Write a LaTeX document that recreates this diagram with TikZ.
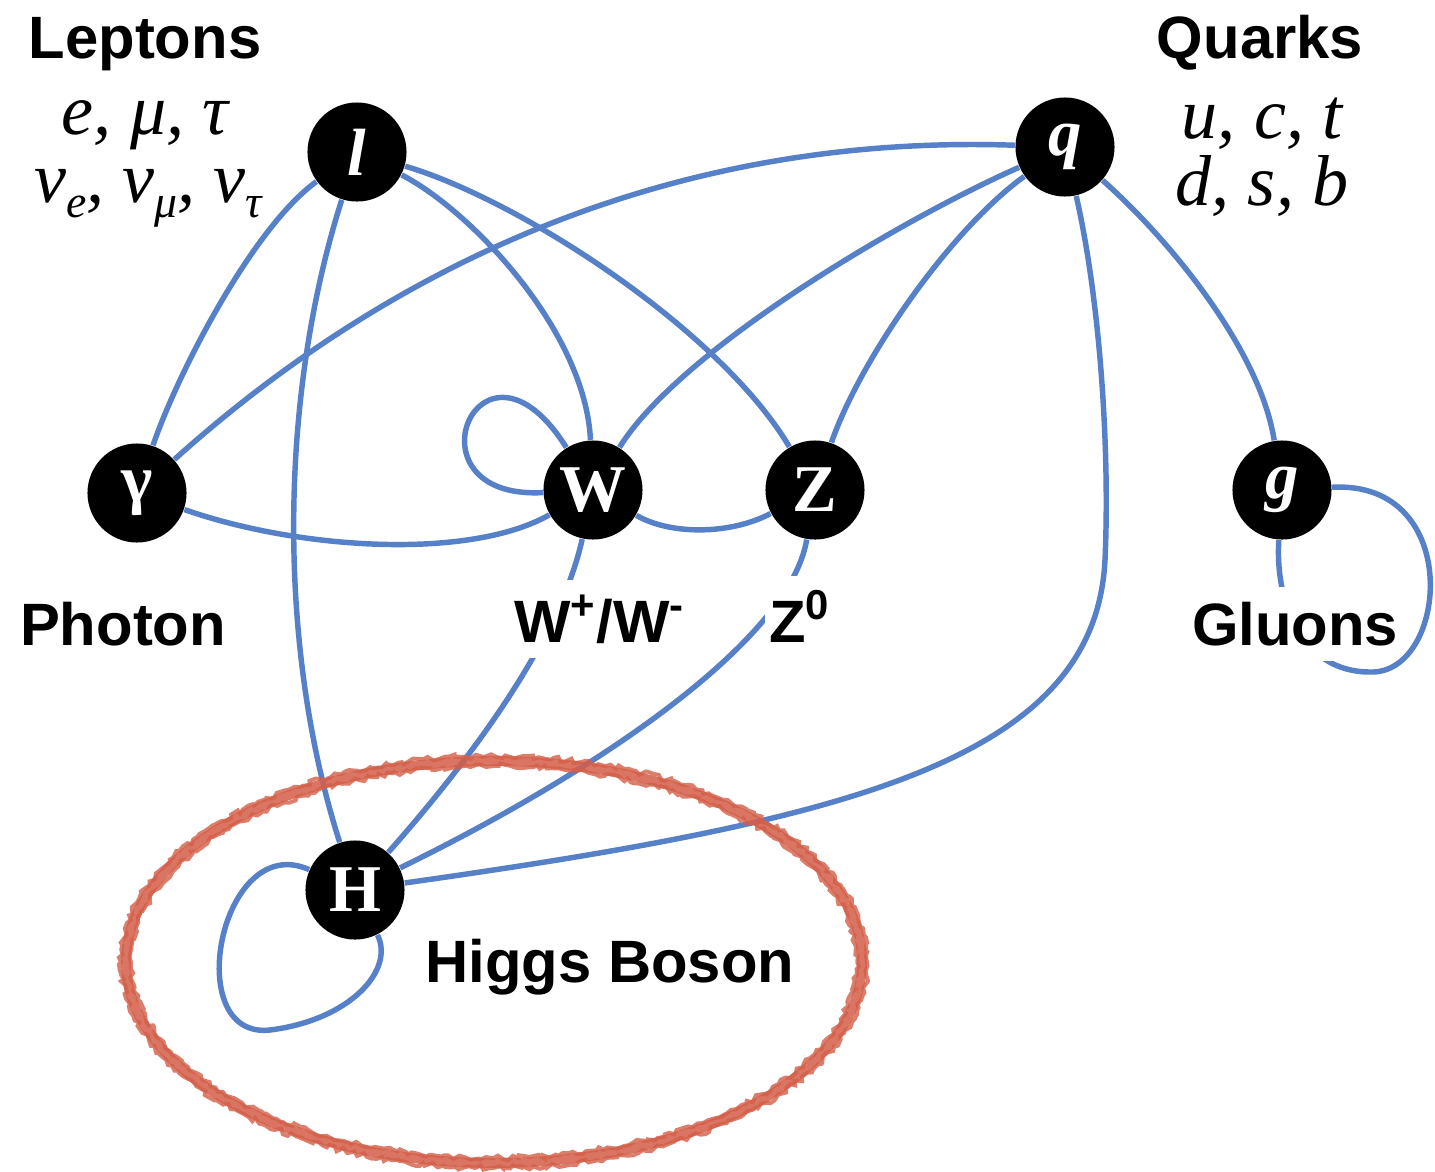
\documentclass[tikz,border=0pt]{standalone}
\usepackage{fontspec}
\setmainfont{Liberation Sans}
\newfontfamily\serifnode{Liberation Serif}
\usetikzlibrary{decorations.pathmorphing,backgrounds}
\definecolor{edgeblue}{RGB}{86,128,199}
\definecolor{ringred}{RGB}{212,94,72}
\newcommand{\lowsub}[1]{\raisebox{-0.22em}{\fontsize{13}{13}\selectfont #1}}
\begin{document}
\begin{tikzpicture}[x=0.01cm,y=-0.01cm,
  particle/.style={circle, fill=black, text=white, minimum size=0.99cm, inner sep=0pt,
    font=\serifnode\bfseries\fontsize{19}{19}\selectfont},
  link/.style={draw=edgeblue, line width=1.55pt},
  title/.style={font=\bfseries\fontsize{17}{20}\selectfont, inner sep=0pt, anchor=base},
  tag/.style={font=\bfseries\fontsize{17}{20}\selectfont, fill=white, inner xsep=0.04cm, inner ysep=0.15cm, anchor=base},
  members/.style={font=\serifnode\itshape\fontsize{20.5}{24}\selectfont, inner sep=0pt, anchor=base}
]
\useasboundingbox (0,0) rectangle (1435,1172);

% particles
\node[particle] (l) at (357,152) {\itshape l};
\node[particle] (q) at (1065,147) {\itshape q};
\node[particle] (ga) at (137,493) {γ};
\node[particle] (W) at (593,490) {W};
\node[particle] (Z) at (815,490) {Z};
\node[particle] (g) at (1282,490) {\itshape g};
\node[particle] (H) at (355,890) {H};
\coordinate (gbot) at (1370,672);

% titles and lists
\node[title] (leptons) at (145,58) {Leptons};
\node[title] (quarks) at (1260,58) {Quarks};
\node[members] (lep1) at (145,134) {e, μ, τ};
\node[members] (lep2) at (148,202) {ν\lowsub{e}, ν\lowsub{μ}, ν\lowsub{τ}};
\node[members] (qk1) at (1262,138) {u, c, t};
\node[members] (qk2) at (1262,205) {d, s, b};

% tags
\node[tag] (photon) at (123,645) {Photon};
\node[tag] (wtag) at (600,642) {W\textsuperscript{+}/W\textsuperscript{-}};
\node[tag] (ztag) at (800,642) {Z\textsuperscript{0}};
\node[tag] (gluons) at (1295,645) {Gluons};
\node[tag] (higgs) at (610,982) {Higgs Boson};

\begin{scope}[on background layer]
  \fill[white] (0,0) rectangle (1435,1172);
  % lepton links
  \draw[link] (ga) .. controls (175,380) and (250,230) .. (l);
  \draw[link] (l) .. controls (278,400) and (278,650) .. (H);
  \draw[link] (l) .. controls (470,210) and (585,330) .. (W);
  \draw[link] (l) .. controls (520,200) and (720,330) .. (Z);
  % quark links
  \draw[link] (q) .. controls (720,135) and (430,230) .. (ga);
  \draw[link] (q) .. controls (900,220) and (680,350) .. (W);
  \draw[link] (q) .. controls (950,230) and (860,360) .. (Z);
  \draw[link] (q) .. controls (1170,240) and (1260,350) .. (g);
  \draw[link] (q) .. controls (1100,300) and (1110,450) .. (1105,560)
              .. controls (1095,760) and (850,820) .. (H);
  % boson links
  \draw[link] (ga) .. controls (300,550) and (470,560) .. (W);
  \draw[link] (W) .. controls (400,500) and (480,310) .. (W);
  \draw[link] (W) .. controls (670,535) and (730,535) .. (Z);
  \draw[link] (W) .. controls (560,640) and (470,760) .. (H);
  \draw[link] (Z) .. controls (790,640) and (600,770) .. (H);
  \draw[link] (g) .. controls (1275,600) and (1300,672) .. (gbot);
  \draw[link] (H) .. controls (220,830) and (180,1040) .. (270,1030)
              .. controls (350,1020) and (395,970) .. (H);
\end{scope}
\draw[link] (gbot) .. controls (1448,675) and (1465,480) .. (g);

% red ring
\pgfmathsetseed{7}
\draw[ringred, opacity=0.85, line width=2.8pt]
  (494,962) ellipse [x radius=368, y radius=201];
\draw[ringred, opacity=0.8, line width=1.1pt, decorate,
  decoration={random steps, segment length=1.2pt, amplitude=0.7pt}]
  (494,962) ellipse [x radius=373, y radius=206];
\draw[ringred, opacity=0.8, line width=1.1pt, decorate,
  decoration={random steps, segment length=1.2pt, amplitude=0.7pt}]
  (494,962) ellipse [x radius=363, y radius=196];
\end{tikzpicture}
\end{document}
